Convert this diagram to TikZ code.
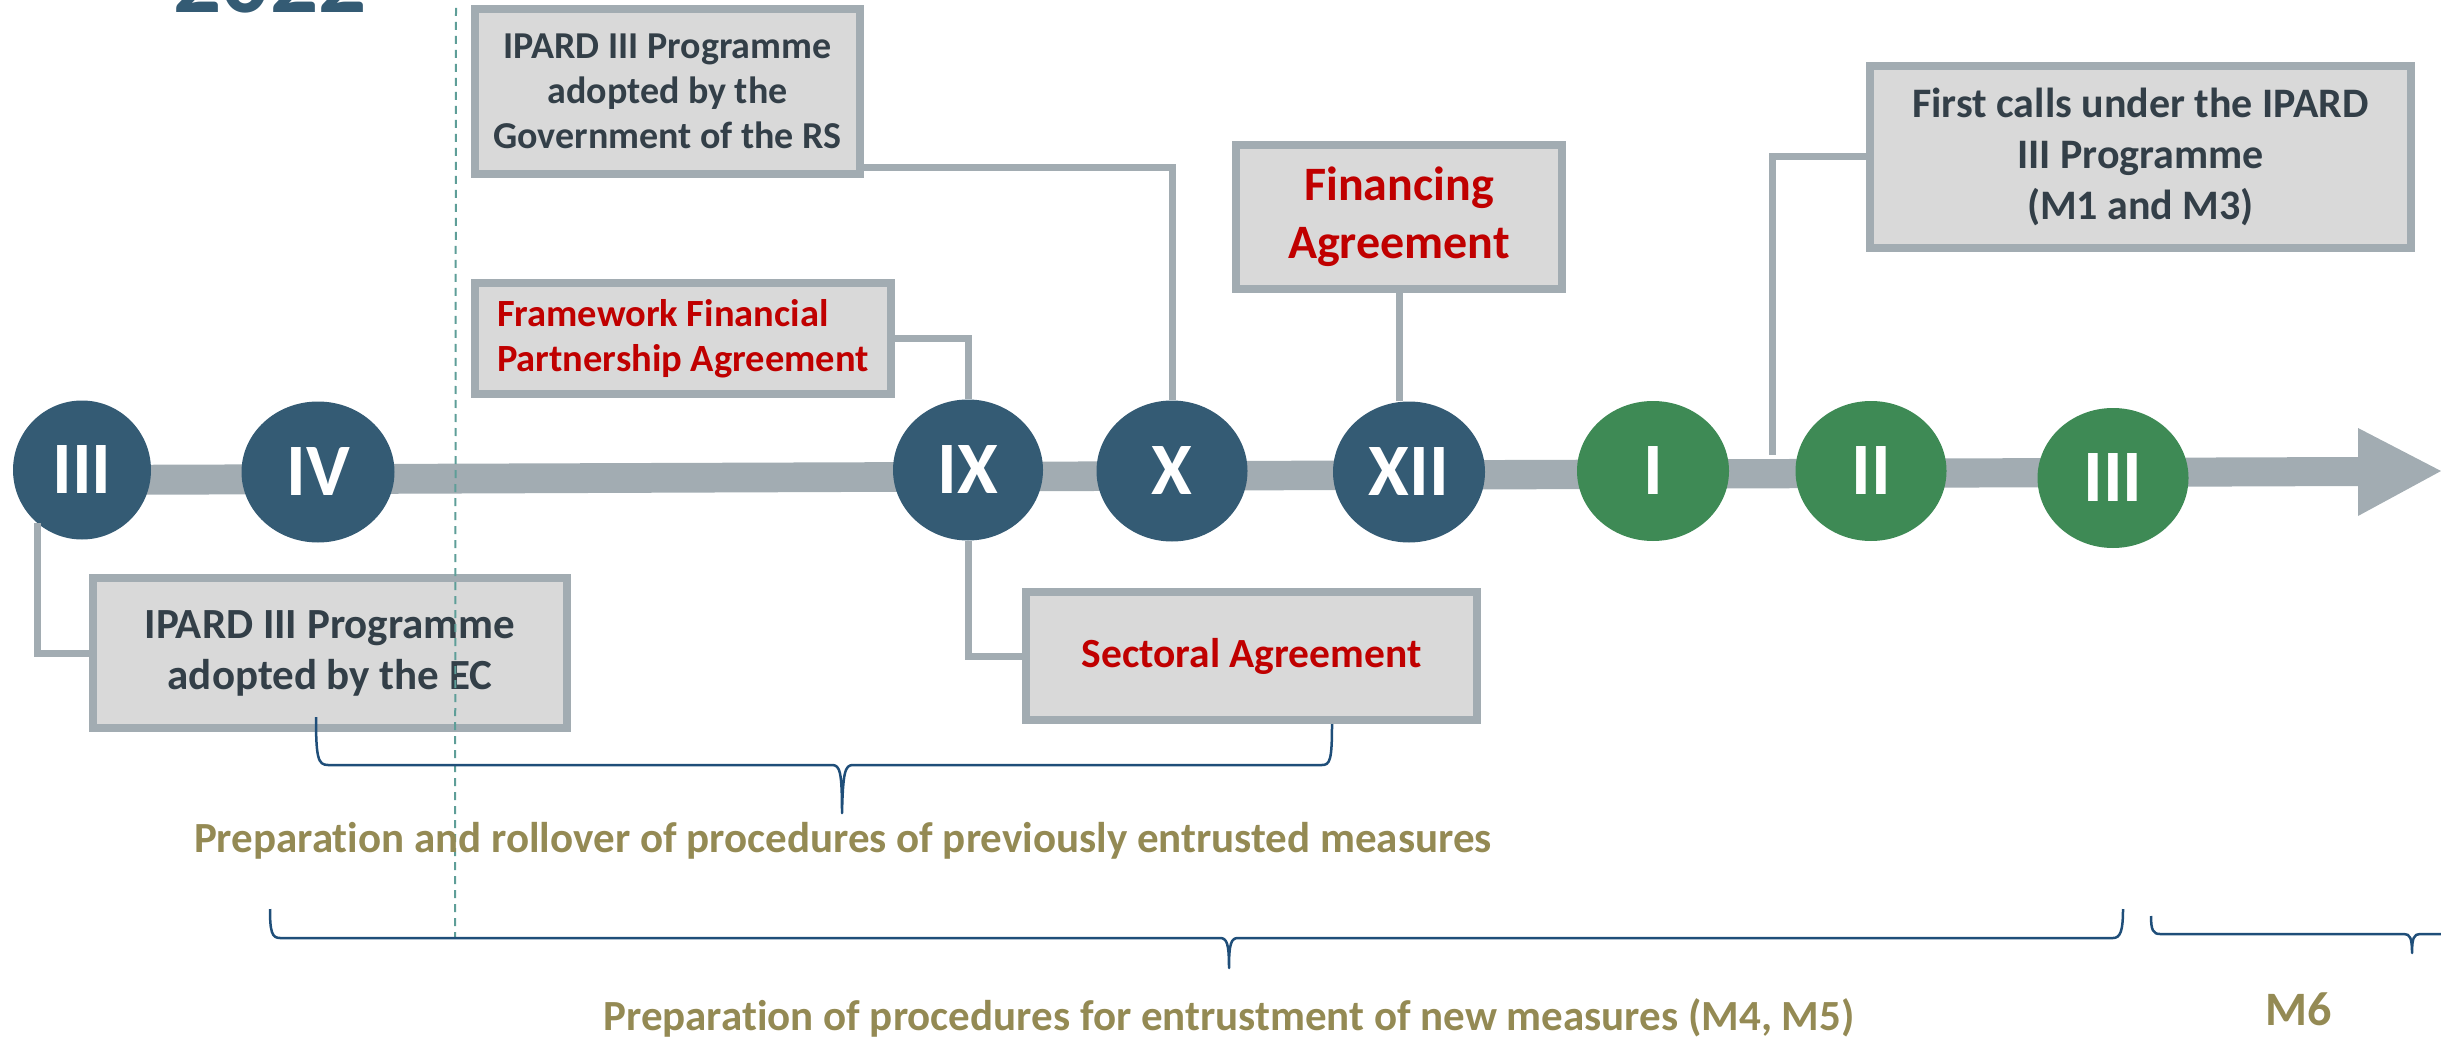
\documentclass[tikz,border=0pt]{standalone}
\usepackage{fontspec}
\setmainfont{Carlito}[Ligatures=NoCommon]
\usetikzlibrary{shapes.geometric,calc}
\definecolor{navy}{HTML}{345B74}
\definecolor{grn}{HTML}{3E8A55}
\definecolor{lgrey}{HTML}{A2ACB2}
\definecolor{boxfill}{HTML}{D9D9D9}
\definecolor{boxtext}{HTML}{333F48}
\definecolor{redt}{HTML}{C00000}
\definecolor{olivet}{HTML}{948A54}
\definecolor{bracecol}{HTML}{1F4E79}
\definecolor{dashcol}{HTML}{5E9E98}
\begin{document}
\begin{tikzpicture}[x=1pt,y=-1pt,
  month/.style={ellipse, inner sep=0pt, text=white, font=\bfseries\fontsize{74}{74}\selectfont},
  bluem/.style={month, fill=navy},
  greenm/.style={month, fill=grn},
  infobox/.style={draw=lgrey, line width=8pt, fill=boxfill, inner sep=0pt, align=center, text=boxtext, font=\bfseries\fontsize{38}{45}\selectfont},
  link/.style={draw=lgrey, line width=7pt},
  bracepath/.style={draw=bracecol, line width=2.5pt, line join=round},
  note/.style={text=olivet, font=\bfseries\fontsize{43}{50}\selectfont, anchor=base, inner sep=0pt}]
\useasboundingbox (0,0) rectangle (2441,1040);
\clip (0,0) rectangle (2441,1040);

% timeline arrow
\fill[lgrey] (82,465) -- (2358,457) -- (2358,428) -- (2441,471) -- (2358,516) -- (2358,486) -- (82,495) -- cycle;

% months
\node[bluem, minimum width=138, minimum height=139] (m03) at (82,470) {III};
\node[bluem, minimum width=153, minimum height=141] (m04) at (318,472) {IV};
\node[bluem, minimum width=150, minimum height=141] (m09) at (968,470) {IX};
\node[bluem, minimum width=151, minimum height=141] (m10) at (1172,471) {X};
\node[bluem, minimum width=152, minimum height=141] (m12) at (1409,472) {XII};
\node[greenm, minimum width=152, minimum height=140] (n01) at (1653,471) {I};
\node[greenm, minimum width=151, minimum height=140] (n02) at (1871,471) {II};
\node[greenm, minimum width=151, minimum height=140] (n03) at (2113,478) {III};

% boxes
\node[infobox, minimum width=385, minimum height=165] (bA) at (667.5,91.5) {IPARD III Programme\\adopted by the\\Government of the RS};
\node[infobox, minimum width=416, minimum height=111, text=redt, align=left, font=\bfseries\fontsize{38.5}{45}\selectfont] (bB) at (683,338.5) {Framework Financial\\Partnership Agreement};
\node[infobox, minimum width=326, minimum height=144, text=redt, font=\bfseries\fontsize{48}{58}\selectfont] (bC) at (1399,217) {Financing\\Agreement};
\node[infobox, minimum width=474, minimum height=150, font=\bfseries\fontsize{43}{51}\selectfont] (bD) at (330,653) {IPARD III Programme\\adopted by the EC};
\node[infobox, minimum width=451, minimum height=128, text=redt, font=\bfseries\fontsize{41.5}{48}\selectfont] (bE) at (1251.5,656) {Sectoral Agreement};
\node[infobox, minimum width=541, minimum height=182, font=\bfseries\fontsize{42}{51}\selectfont] (bF) at (2140.5,157) {First calls under the IPARD\\III Programme\\(M1 and M3)};

% connectors
\draw[link] (m03.230) |- (bD.west);
\draw[link] (m09.south) |- (bE.west);
\draw[link] (bB.east) -| (m09.north);
\coordinate (aA) at ([yshift=10pt]bA.south east);
\draw[link] (aA) -| (m10.north);
\draw[link] (bC.south) -- (bC.south |- m12.north);
\coordinate (fT) at (1772,455);
\draw[link] (bF.west) -| (fT);

% dashed year separator
\draw[dashcol, line width=2pt, dash pattern=on 8pt off 6pt] (456,8) -- (455,937);

% braces
\draw[bracepath] (316,717) .. controls (316,758) and (318,765) .. (328,765) -- (832,765) .. controls (840,765) and (842,772) .. (842,813) .. controls (843,772) and (845,765) .. (853,765) -- (1322,765) .. controls (1330,765) and (1332,760) .. (1332,724);
\draw[bracepath] (270,909) .. controls (270,932) and (272,938) .. (280,938) -- (1220,938) .. controls (1227,938) and (1229,944) .. (1229,968) .. controls (1229,944) and (1231,938) .. (1238,938) -- (2113,938) .. controls (2120,938) and (2123,932) .. (2123,909);
\draw[bracepath] (2151,916) .. controls (2151,930) and (2153,934) .. (2160,934) -- (2404,934) .. controls (2410,934) and (2412,938) .. (2412,953) .. controls (2412,938) and (2414,934) .. (2420,934) -- (2460,934);

% labels
\node[note] (L1) at (843,852) {Preparation and rollover of procedures of previously entrusted measures};
\node[note] (L2) at (1229,1030) {Preparation of procedures for entrustment of new measures (M4, M5)};
\node[note, font=\bfseries\fontsize{48}{52}\selectfont] (L3) at (2299,1025) {M6};
\node[text=navy, font=\bfseries\fontsize{95}{95}\selectfont, anchor=base, inner sep=0pt] (yr) at (270,13) {2022};
\end{tikzpicture}
\end{document}
